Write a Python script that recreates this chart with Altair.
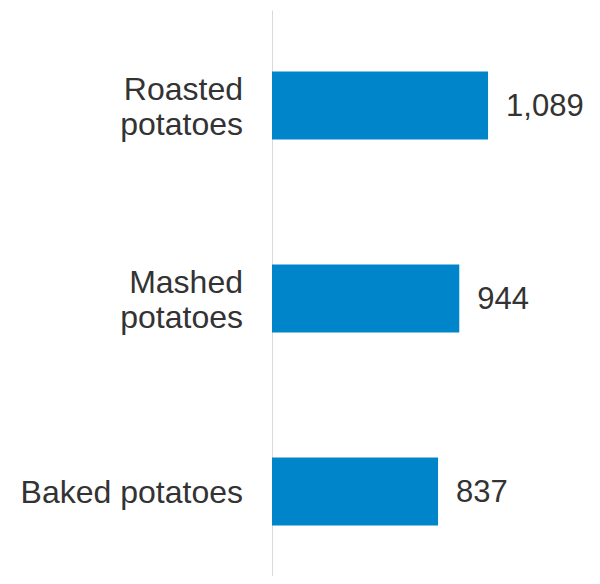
import altair as alt
import pandas as pd

categories = ["Roasted|potatoes", "Mashed|potatoes", "Baked potatoes"]
values = [1089, 944, 837]
value_labels = ["1,089", "944", "837"]

df = pd.DataFrame({"cat": categories, "val": values, "lab": value_labels})

FONT = "Liberation Sans"
TEXT_COLOR = "#333333"

y_enc = alt.Y(
    "cat:N",
    sort=categories,
    title=None,
    scale=alt.Scale(paddingInner=0.6477, paddingOuter=0.29, align=0.55),
    axis=alt.Axis(
        labels=False,
        ticks=False,
        domainColor="#d9d9d9",
        domainWidth=1,
        grid=False,
    ),
)

x_enc = alt.X("val:Q", scale=alt.Scale(domain=[0, 1613], nice=False), axis=None)

base = alt.Chart(df)

bars = base.mark_bar(color="#0085CA").encode(x=x_enc, y=y_enc)

text = base.mark_text(
    align="left", baseline="middle", dx=18, dy=1, font=FONT, fontSize=31, color=TEXT_COLOR
).encode(x=x_enc, y=y_enc, text="lab:N")

label_style = dict(
    align="right", baseline="middle", font=FONT, fontSize=32, color=TEXT_COLOR,
    lineBreak="|", lineHeight=35,
)

labels_multi = base.transform_filter("indexof(datum.cat, '|') >= 0").mark_text(
    dy=-16, **label_style
).encode(x=alt.value(-29), y=y_enc, text="cat:N")

labels_single = base.transform_filter("indexof(datum.cat, '|') < 0").mark_text(
    dy=1, **label_style
).encode(x=alt.value(-29), y=y_enc, text="cat:N")

chart = (
    alt.layer(bars, text, labels_multi, labels_single)
    .properties(
        width=320,
        height=566,
        autosize=alt.AutoSizeParams(type="none"),
        padding={"left": 264, "top": 2, "right": 0, "bottom": 0},
    )
    .configure_view(stroke=None)
)

chart.save("out.html", embed_options={"renderer": "svg", "actions": False})
